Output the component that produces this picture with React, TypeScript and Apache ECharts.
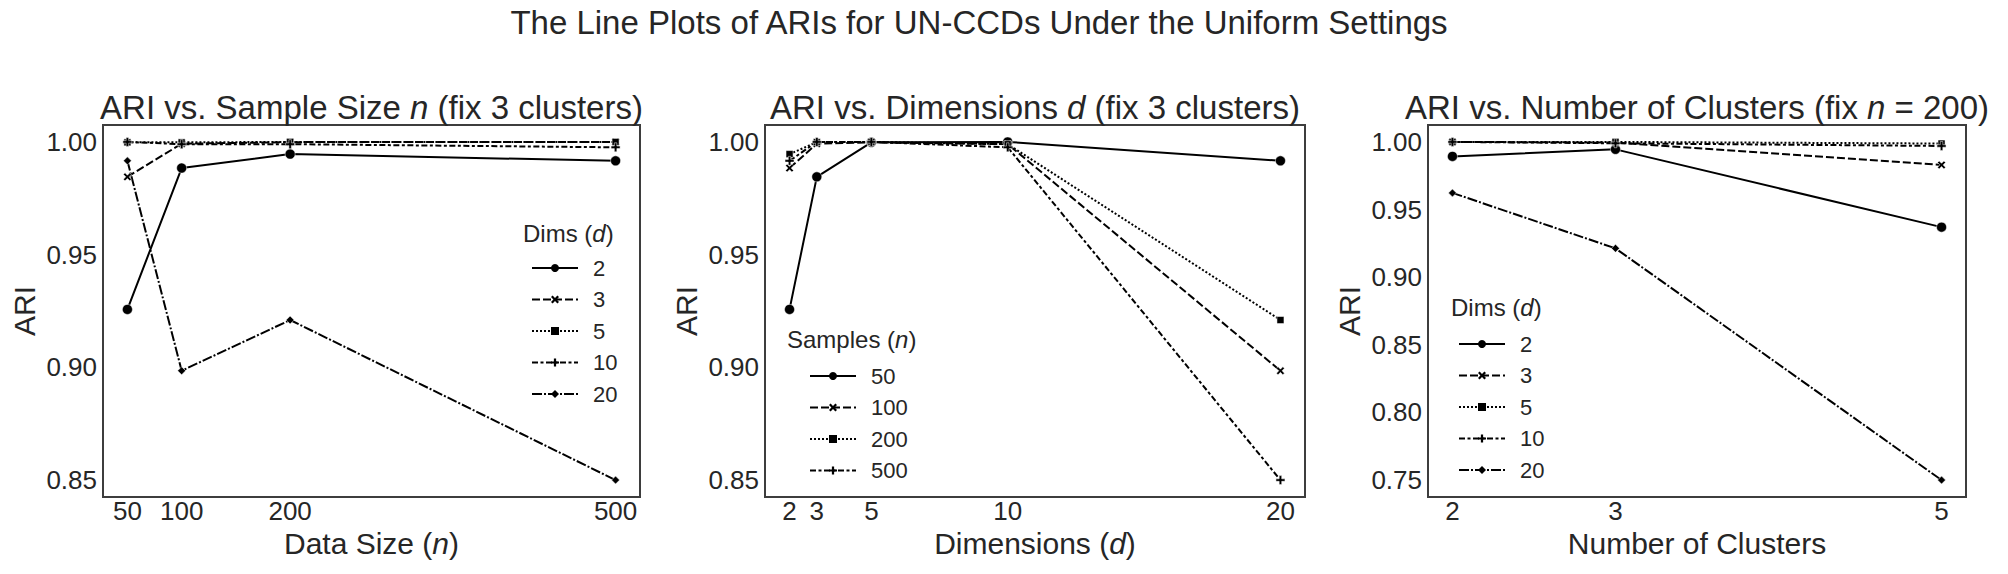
import { useEffect, useRef } from 'react';
import * as echarts from 'echarts';

// ---------- data ----------
const dims = [2, 3, 5, 10, 20];
const sampleSizes = [50, 100, 200, 500];
const clusterCounts = [2, 3, 5];

// ARI with 3 clusters; one row per sample size n, columns follow `dims`
const ari_n50 = [0.9257, 0.9845, 0.9998, 1.0, 0.9916];
const ari_n100 = [0.9884, 0.9992, 0.9998, 0.999, 0.8985];
const ari_n200 = [0.9946, 0.9999, 1.0, 0.999, 0.921];
const ari_n500 = [0.9916, 1.0, 1.0, 0.9976, 0.85];
const ariBySample = [ari_n50, ari_n100, ari_n200, ari_n500];

// ARI with n = 200; one row per dimension d, columns follow `clusterCounts`
const clus_d2 = [0.9893, 0.9945, 0.937];
const clus_d3 = [1.0, 0.9995, 0.983];
const clus_d5 = [1.0, 1.0, 0.9988];
const clus_d10 = [1.0, 0.999, 0.997];
const clus_d20 = [0.9623, 0.9213, 0.75];
const ariByDimClusters = [clus_d2, clus_d3, clus_d5, clus_d10, clus_d20];

// tick labels
const sizeTicks = [50, 100, 200, 500];
const dimTicks = [2, 3, 5, 10, 20];
const clusterTicks = [2, 3, 5];
const ariTicksA = [0.85, 0.9, 0.95, 1.0];
const ariTicksB = [0.75, 0.8, 0.85, 0.9, 0.95, 1.0];

// ---------- styles ----------
const FONT = '"Liberation Sans", Arial, Helvetica, sans-serif';
const TXT = '#262626';
const X_PATH = 'path://M2,0 L5,3 L8,0 L10,2 L7,5 L10,8 L8,10 L5,7 L2,10 L0,8 L3,5 L0,2 Z';
const PLUS_PATH = 'path://M3.6,0 H6.4 V3.6 H10 V6.4 H6.4 V10 H3.6 V6.4 H0 V3.6 H3.6 Z';
const lineTypes: any[] = ['solid', [8, 3], [2, 2], [6, 2.5, 3, 2.5], [10, 2, 2, 2]];
const markers = ['circle', X_PATH, 'rect', PLUS_PATH, 'diamond'];
const markerSizes = [10, 8, 7, 9, 8];

function makeSeries(name: string, xs: number[], ys: number[], k: number, idx: number) {
  return {
    type: 'line',
    name,
    xAxisIndex: idx,
    yAxisIndex: idx,
    data: xs.map((x, i) => [x, ys[i]]),
    symbol: markers[k],
    symbolSize: markerSizes[k],
    showSymbol: true,
    lineStyle: { color: '#000', width: 2, type: lineTypes[k] },
    itemStyle: { color: '#000', borderColor: '#fff', borderWidth: 0.5 },
    emphasis: { disabled: true },
  };
}

const textStyle = { fontFamily: FONT, color: TXT };
const richI = (size: number) => ({ i: { fontStyle: 'italic', fontSize: size, fontFamily: FONT, color: TXT } });

function xAxis(idx: number, min: number, max: number, ticks: number[], name: string) {
  return {
    gridIndex: idx, type: 'value', min, max,
    axisLine: { show: false }, axisTick: { show: false }, splitLine: { show: false },
    axisLabel: { ...textStyle, fontSize: 26, margin: 1, customValues: ticks },
    name, nameLocation: 'middle', nameGap: 28,
    nameTextStyle: { ...textStyle, fontSize: 30, rich: richI(30) },
  };
}
function yAxis(idx: number, min: number, max: number, ticks: number[]) {
  return {
    gridIndex: idx, type: 'value', min, max,
    axisLine: { show: false }, axisTick: { show: false }, splitLine: { show: false },
    axisLabel: { ...textStyle, fontSize: 26, margin: 6, customValues: ticks, formatter: (v: number) => v.toFixed(2) },
    name: 'ARI', nameLocation: 'middle', nameGap: 64,
    nameTextStyle: { ...textStyle, fontSize: 30 },
  };
}
function legend(names: string[], left: number, top: number) {
  return {
    orient: 'vertical', left, top, itemWidth: 46, itemHeight: 10, itemGap: 9.5,
    selectedMode: false,
    data: names,
    formatter: (n: string) => n.split('#')[1],
    itemStyle: { borderWidth: 0 },
    textStyle: { ...textStyle, fontSize: 22, padding: [0, 0, 0, 10] },
  };
}
function label(text: string, x: number, y: number, size: number, align = 'center') {
  return {
    type: 'text', x, y, silent: true,
    style: { text, rich: richI(size), fontSize: size, fontFamily: FONT, fill: TXT, textAlign: align, textVerticalAlign: 'middle' },
  };
}

const gridBox = { top: 125, height: 372, show: true, borderColor: '#3d3d3d', borderWidth: 2 };

const p1Names = dims.map((d) => 'a#' + d);
const p2Names = sampleSizes.map((n) => 'b#' + n);
const p3Names = dims.map((d) => 'c#' + d);

const series: any[] = [];
dims.forEach((d, k) => series.push(makeSeries(p1Names[k], sampleSizes, ariBySample.map((row) => row[k]), k, 0)));
sampleSizes.forEach((n, k) => series.push(makeSeries(p2Names[k], dims, ariBySample[k], k, 1)));
dims.forEach((d, k) => series.push(makeSeries(p3Names[k], clusterCounts, ariByDimClusters[k], k, 2)));

const option: any = {
  animation: false,
  backgroundColor: '#fff',
  grid: [
    { ...gridBox, left: 103, width: 537 },
    { ...gridBox, left: 765, width: 540 },
    { ...gridBox, left: 1428, width: 538 },
  ],
  xAxis: [
    xAxis(0, 27.5, 522.5, sizeTicks, 'Data Size ({i|n})'),
    xAxis(1, 1.1, 20.9, dimTicks, 'Dimensions ({i|d})'),
    xAxis(2, 1.85, 5.15, clusterTicks, 'Number of Clusters'),
  ],
  yAxis: [
    yAxis(0, 0.8425, 1.0075, ariTicksA),
    yAxis(1, 0.8425, 1.0075, ariTicksA),
    yAxis(2, 0.7375, 1.0125, ariTicksB),
  ],
  legend: [
    legend(p1Names, 526, 252),
    legend(p2Names, 804, 360),
    legend(p3Names, 1453, 328),
  ],
  graphic: [
    label('The Line Plots of ARIs for UN-CCDs Under the Uniform Settings', 979, 22, 33),
    label('ARI vs. Sample Size {i|n} (fix 3 clusters)', 371.5, 107, 33),
    label('ARI vs. Dimensions {i|d} (fix 3 clusters)', 1035, 107, 33),
    label('ARI vs. Number of Clusters (fix {i|n} = 200)', 1697, 107, 33),
    label('Dims ({i|d})', 523, 233, 24, 'left'),
    label('Samples ({i|n})', 787, 339, 24, 'left'),
    label('Dims ({i|d})', 1451, 307, 24, 'left'),
  ],
  series,
};

export default function App() {
  const ref = useRef<HTMLDivElement>(null);
  useEffect(() => {
    document.body.style.margin = '0';
    const chart = echarts.init(ref.current!, null, { renderer: 'svg' });
    chart.setOption(option);
    return () => chart.dispose();
  }, []);
  return <div ref={ref} style={{ width: 2008, height: 574 }} />;
}
